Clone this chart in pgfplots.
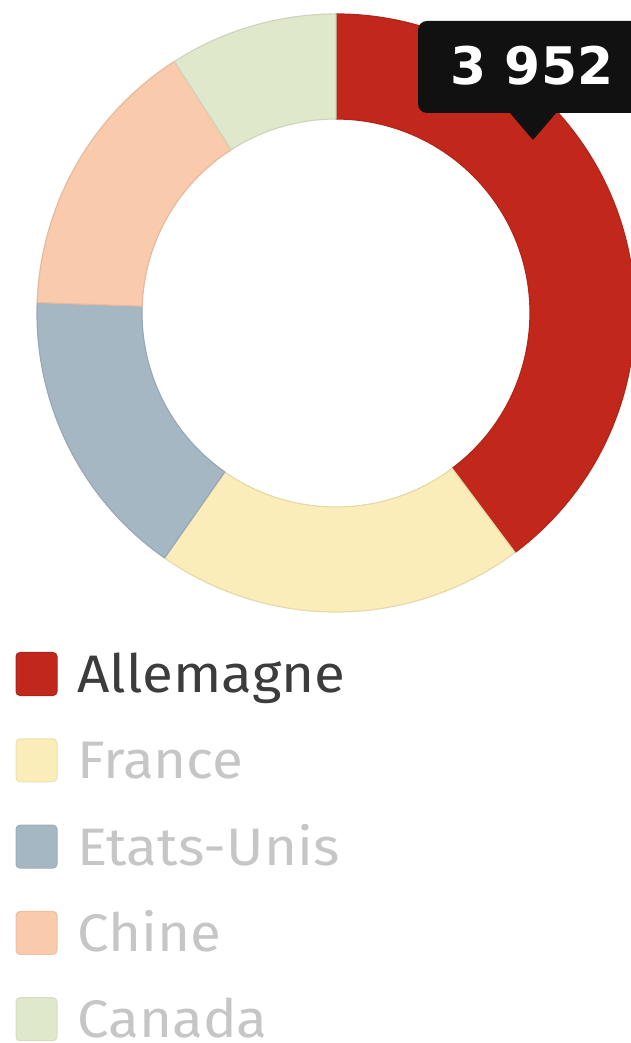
\documentclass[border=0pt]{standalone}
\usepackage{pgfplots}
\pgfplotsset{compat=1.18}
\usepackage{pgfplotstable}
\usepackage{fontspec}
\setmainfont{Fira Sans}[FakeStretch=1.07]
\newfontfamily\tipfont{DejaVu Sans}
\definecolor{cAll}{HTML}{C1281B}
\definecolor{cFra}{HTML}{FAEDB9}
\definecolor{cEtu}{HTML}{A6B7C4}
\definecolor{cChi}{HTML}{F9CAAC}
\definecolor{cCan}{HTML}{E0E8CC}
\definecolor{txtdark}{HTML}{3C3C3C}
\definecolor{txtlight}{HTML}{C6C6C6}
\definecolor{tipbg}{HTML}{111111}

\pgfplotstableread{
label      value col
Allemagne  3952  cAll
France     1980  cFra
Etats-Unis 1573  cEtu
Chine      1526  cChi
Canada     902   cCan
}\donutdata

\begin{document}
\begin{tikzpicture}
\pgfplotstablegetrowsof{\donutdata}
\pgfmathtruncatemacro\lastrow{\pgfplotsretval-1}
\def\total{0}
\pgfplotsforeachungrouped \i in {0,...,\lastrow}{%
  \pgfplotstablegetelem{\i}{value}\of\donutdata
  \pgfmathsetmacro\total{\total+\pgfplotsretval}}
\begin{axis}[
  x=1bp, y=1bp,
  xmin=0, xmax=631, ymin=0, ymax=1043,
  hide axis, clip=false,
  legend style={at={(axis cs:15.5,391)}, anchor=north west,
    draw=none, fill=none, inner sep=0pt, outer sep=0pt,
    row sep=40.8bp, column sep=20bp,
    font=\fontsize{53}{60}\selectfont,
    cells={anchor=base west},
    nodes={inner sep=0pt, text height=40bp, text depth=5bp}},
  legend image code/.code={%
    \draw[#1, rounded corners=4bp, line width=1bp] (0bp,-3bp) rectangle (41bp,40bp);},
]
\def\angA{90}
\pgfplotsforeachungrouped \i in {0,...,\lastrow}{%
  \pgfplotstablegetelem{\i}{value}\of\donutdata \let\sval\pgfplotsretval
  \pgfplotstablegetelem{\i}{col}\of\donutdata \let\scol\pgfplotsretval
  \pgfmathsetmacro\angB{\angA-\sval/\total*360}
  \edef\temp{\noexpand\filldraw[fill=\scol, draw=\scol!92!black, line width=1.2bp, line join=round,
     shift={(axis cs:336,730)}]
     (\angA:299bp) arc[start angle=\angA, end angle=\angB, radius=299bp]
     -- (\angB:194bp) arc[start angle=\angB, end angle=\angA, radius=194bp] -- cycle;}
  \temp
  \global\let\angA\angB
}
\addlegendimage{fill=cAll, draw=cAll!90!black}
\addlegendentry{\textcolor{txtdark}{Allemagne}}
\addlegendimage{fill=cFra, draw=cFra!95!black}
\addlegendentry{\textcolor{txtlight}{France}}
\addlegendimage{fill=cEtu, draw=cEtu!95!black}
\addlegendentry{\textcolor{txtlight}{Etats-Unis}}
\addlegendimage{fill=cChi, draw=cChi!95!black}
\addlegendentry{\textcolor{txtlight}{Chine}}
\addlegendimage{fill=cCan, draw=cCan!95!black}
\addlegendentry{\textcolor{txtlight}{Canada}}
% tooltip
\fill[tipbg, rounded corners=9bp] (axis cs:418,930) rectangle (axis cs:660,1022);
\fill[tipbg] (axis cs:509,931) -- (axis cs:533,903) -- (axis cs:557,931) -- cycle;
\node[anchor=base, text=white, font=\tipfont\fontsize{52}{60}\selectfont\bfseries, inner sep=0pt]
  at (axis cs:532,958) {3 952};
\end{axis}
\pgfresetboundingbox
\path (current axis.south west) rectangle (current axis.north east);
\end{tikzpicture}
\end{document}
